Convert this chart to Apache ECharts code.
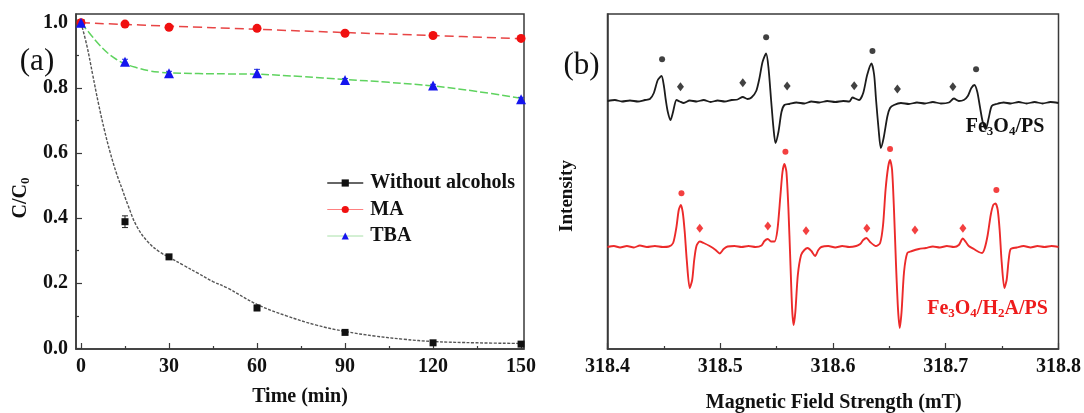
<!DOCTYPE html>
<html><head><meta charset="utf-8">
<script src="https://cdn.jsdelivr.net/npm/echarts@6/dist/echarts.min.js"></script>
<style>html,body{margin:0;padding:0;background:#fff}#c{width:1084px;height:413px}</style>
</head><body><div id="c"></div>
<script>
// ---------- Panel (a) data ----------
const timeMin = [0, 15, 30, 60, 90, 120, 150];
const withoutAlcohols = [1.0, 0.389, 0.281, 0.124, 0.049, 0.017, 0.013];
const maValues = [1.0, 0.996, 0.986, 0.983, 0.968, 0.961, 0.952];
const tbaValues = [1.0, 0.880, 0.845, 0.845, 0.824, 0.807, 0.765];
const withoutErr = [0, 0.018, 0.006, 0.008, 0.005, 0.005, 0.004];
const tbaErr = [0, 0.008, 0.006, 0.012, 0.005, 0.004, 0.006];

const fitWithoutT = [0, 2, 4, 6, 8, 10, 12, 14, 16, 19, 23, 27, 30, 35, 40, 45, 50, 60, 70, 80, 90, 100, 110, 120, 135, 150];
const fitWithoutV = [1.0, 0.93, 0.84, 0.75, 0.67, 0.60, 0.54, 0.49, 0.44, 0.375, 0.325, 0.295, 0.280, 0.255, 0.230, 0.205, 0.185, 0.135, 0.100, 0.072, 0.052, 0.038, 0.028, 0.021, 0.017, 0.015];
const fitMaT = [0, 30, 60, 90, 120, 150];
const fitMaV = [1.0, 0.990, 0.980, 0.970, 0.961, 0.951];
const fitTbaT = [0, 3, 6, 9, 12, 15, 19, 23, 27, 30, 40, 50, 60, 75, 90, 105, 120, 135, 150];
const fitTbaV = [1.0, 0.967, 0.935, 0.908, 0.888, 0.874, 0.862, 0.853, 0.848, 0.846, 0.844, 0.843, 0.842, 0.835, 0.826, 0.817, 0.806, 0.789, 0.768];

const timeTicks = [0, 30, 60, 90, 120, 150];
const timeMinorTicks = [15, 45, 75, 105, 135];
const ratioTicks = [0, 0.2, 0.4, 0.6, 0.8, 1.0];
const ratioMinorTicks = [0.1, 0.3, 0.5, 0.7, 0.9];

// ---------- Panel (b) data ----------
const fieldTicks = [318.4, 318.5, 318.6, 318.7, 318.8];
const fieldMinorTicks = [318.45, 318.55, 318.65, 318.75];

const fieldBlack = [318.4000,318.4066,318.4128,318.4199,318.4270,318.4332,318.4376,318.4411,318.4446,318.4479,318.4499,318.4517,318.4535,318.4559,318.4579,318.4612,318.4641,318.4676,318.4729,318.4791,318.4853,318.4915,318.4977,318.5039,318.5101,318.5154,318.5200,318.5242,318.5277,318.5319,318.5348,318.5375,318.5407,318.5428,318.5451,318.5472,318.5490,318.5516,318.5543,318.5569,318.5613,318.5675,318.5746,318.5808,318.5879,318.5949,318.6020,318.6091,318.6144,318.6173,318.6206,318.6232,318.6268,318.6303,318.6341,318.6365,318.6382,318.6405,318.6424,318.6449,318.6482,318.6506,318.6541,318.6603,318.6674,318.6745,318.6816,318.6886,318.6957,318.7028,318.7072,318.7116,318.7160,318.7196,318.7227,318.7255,318.7280,318.7302,318.7328,318.7355,318.7381,318.7408,318.7452,318.7514,318.7576,318.7647,318.7717,318.7788,318.7859,318.7929,318.8000];
const intensityBlack = [248,249,247.5,248.5,247.5,249,250,256,269,273,264,249,237,229,236,249,247.5,246,248.5,247.5,249,247,248.5,247.5,249,249.5,252,250,251.5,258,271,287,295.5,281,249,221,206,217,237,244,245,246.5,245.5,247.5,246.5,248,247,248,247.5,251.5,250,249,256,274,285.5,274,249,219,201,211,232.5,241,244,246,245,246.5,245.5,247,245.5,246.5,250.5,248,249,253,261,264,257,243,227,220,231,243,245,246.5,245.5,247,245.5,247,245.5,247,246];

const fieldRed = [318.4000,318.4057,318.4111,318.4172,318.4234,318.4287,318.4349,318.4420,318.4491,318.4544,318.4582,318.4610,318.4632,318.4650,318.4667,318.4685,318.4703,318.4729,318.4751,318.4769,318.4789,318.4818,318.4853,318.4906,318.4959,318.4995,318.5030,318.5065,318.5127,318.5189,318.5251,318.5313,318.5366,318.5392,318.5422,318.5450,318.5481,318.5507,318.5534,318.5552,318.5569,318.5587,318.5605,318.5622,318.5638,318.5651,318.5666,318.5688,318.5717,318.5746,318.5775,318.5808,318.5841,318.5870,318.5896,318.5958,318.6020,318.6082,318.6144,318.6206,318.6241,318.6268,318.6297,318.6329,318.6380,318.6418,318.6444,318.6466,318.6489,318.6506,318.6524,318.6541,318.6559,318.6577,318.6592,318.6608,318.6630,318.6659,318.6701,318.6762,318.6824,318.6886,318.6948,318.7010,318.7072,318.7116,318.7151,318.7178,318.7204,318.7249,318.7293,318.7322,318.7346,318.7372,318.7399,318.7421,318.7441,318.7461,318.7478,318.7496,318.7520,318.7540,318.7558,318.7576,318.7629,318.7691,318.7752,318.7814,318.7876,318.7938,318.8000];
const intensityRed = [102,103,101.5,103,101.5,103.5,102,103,102,102.5,106,121,139,144,137,117,89,61,69,89,103,107.5,106,103,99,95.5,100,102.5,103,102,103,102,103.5,108,110,107.5,107.5,119,154,177,185,177,139,87,39,24,37,74,94,99,101,98,93,99,102,103,101.5,103,102,103,105,109,111,107,103,106,124,159,182,189,179,139,84,39,21,37,77,96,98,100,101,102.5,101.5,103,102,104,110.5,107,103,100,97,96,101,114,134,144,145.5,139,119,87,61,69,89,100,101.5,103,101.5,103,102,103,102];

const blackDotField = [318.4484, 318.5407, 318.6350, 318.7269];
const blackDotInt = [289.7, 311.7, 298, 279.7];
const blackDiamondField = [318.4647, 318.5200, 318.5593, 318.6188, 318.6571, 318.7063];
const blackDiamondInt = [262.3, 266.3, 263, 263.3, 260, 262.3];
const redDotField = [318.4656, 318.5578, 318.6506, 318.7449];
const redDotInt = [155.7, 197.3, 200, 159];
const redDiamondField = [318.4818, 318.5422, 318.5761, 318.6300, 318.6727, 318.7152];
const redDiamondInt = [120.7, 123, 118.3, 120.7, 119, 120.7];

// ---------- build ----------
const FONT = "'Liberation Serif', 'Times New Roman', serif";
const zip = (a, b) => a.map((v, i) => [v, b[i]]);
const zip3 = (a, b, c) => a.map((v, i) => [v, b[i], c[i]]);
const AXC = '#3a3a3a';

function errRenderer(color) {
  return function (params, api) {
    const x = api.value(0), y = api.value(1), e = api.value(2);
    if (!e) return null;
    const p1 = api.coord([x, y + e]), p2 = api.coord([x, y - e]);
    const w = 3;
    const st = { stroke: color, lineWidth: 1 };
    return { type: 'group', children: [
      { type: 'line', shape: { x1: p1[0], y1: p1[1], x2: p2[0], y2: p2[1] }, style: st },
      { type: 'line', shape: { x1: p1[0] - w, y1: p1[1], x2: p1[0] + w, y2: p1[1] }, style: st },
      { type: 'line', shape: { x1: p2[0] - w, y1: p2[1], x2: p2[0] + w, y2: p2[1] }, style: st }
    ]};
  };
}

const labelStyle = { fontFamily: FONT, fontSize: 20, fontWeight: 'bold', color: '#111' };

function majorAxis(o) {
  return Object.assign({
    type: 'value', splitLine: { show: false },
    axisLine: { show: true, onZero: false, lineStyle: { color: AXC, width: 1.5 } },
    axisTick: { show: true, inside: true, length: 6, lineStyle: { color: AXC, width: 1.2 } },
    axisLabel: Object.assign({ show: true, margin: 8 }, labelStyle)
  }, o);
}
function minorAxis(o) {
  return Object.assign({
    type: 'value', splitLine: { show: false },
    axisLine: { show: false, onZero: false },
    axisTick: { show: true, inside: true, length: 3, lineStyle: { color: AXC, width: 1.2 } },
    axisLabel: { show: false }
  }, o);
}

const chart = echarts.init(document.getElementById('c'));
const option = {
  animation: false,
  backgroundColor: '#fff',
  grid: [
    { left: 76, right: 560, top: 14, bottom: 64, show: true, borderColor: AXC, borderWidth: 1.5, backgroundColor: 'transparent' },
    { left: 607.5, right: 24, top: 14, bottom: 64, show: true, borderColor: AXC, borderWidth: 1.5, backgroundColor: 'transparent' }
  ],
  xAxis: [
    majorAxis({ gridIndex: 0, position: 'bottom', min: -1.7, max: 151,
      axisTick: { show: true, inside: true, length: 6, customValues: timeTicks, lineStyle: { color: AXC, width: 1.2 } },
      axisLabel: Object.assign({ margin: 8, customValues: timeTicks }, labelStyle) }),
    minorAxis({ gridIndex: 0, position: 'bottom', min: -1.7, max: 151,
      axisTick: { show: true, inside: true, length: 3, customValues: timeMinorTicks, lineStyle: { color: AXC, width: 1.2 } } }),
    majorAxis({ gridIndex: 1, position: 'bottom', min: 318.4, max: 318.8,
      axisTick: { show: true, inside: true, length: 6, customValues: fieldTicks, lineStyle: { color: AXC, width: 1.2 } },
      axisLabel: Object.assign({ margin: 8, customValues: fieldTicks, formatter: v => Number(v).toFixed(1) }, labelStyle) }),
    minorAxis({ gridIndex: 1, position: 'bottom', min: 318.4, max: 318.8,
      axisTick: { show: true, inside: true, length: 3, customValues: fieldMinorTicks, lineStyle: { color: AXC, width: 1.2 } } })
  ],
  yAxis: [
    majorAxis({ gridIndex: 0, position: 'left', min: -0.002, max: 1.027,
      axisTick: { show: true, inside: true, length: 6, customValues: ratioTicks, lineStyle: { color: AXC, width: 1.2 } },
      axisLabel: Object.assign({ margin: 8, customValues: ratioTicks, formatter: v => Number(v).toFixed(1) }, labelStyle) }),
    minorAxis({ gridIndex: 0, position: 'left', min: -0.002, max: 1.027,
      axisTick: { show: true, inside: true, length: 3, customValues: ratioMinorTicks, lineStyle: { color: AXC, width: 1.2 } } }),
    { type: 'value', gridIndex: 1, position: 'left', min: 0, max: 335, splitLine: { show: false },
      axisLine: { show: true, lineStyle: { color: AXC, width: 1.5 } }, axisTick: { show: false }, axisLabel: { show: false } }
  ],
  legend: {
    orient: 'vertical', left: 326.5, top: 173, padding: 0, itemGap: 6.5,
    itemWidth: 36, itemHeight: 9,
    textStyle: { fontFamily: FONT, fontSize: 20, fontWeight: 'bold', color: '#111', lineHeight: 20, padding: [0, 0, 0, 2] },
    data: [
      { name: 'Without alcohols', lineStyle: { color: '#333', width: 1.5, opacity: 1, type: 'solid' } },
      { name: 'MA', lineStyle: { color: '#ff8080', width: 1, opacity: 1, type: 'solid' } },
      { name: 'TBA', lineStyle: { color: '#a8e0a8', width: 1, opacity: 1, type: 'solid' } }
    ]
  },
  series: [
    // fitted curves
    { type: 'line', xAxisIndex: 0, yAxisIndex: 0, data: zip(fitWithoutT, fitWithoutV), smooth: 0.4, showSymbol: false, silent: true,
      lineStyle: { color: '#555', width: 1.4, type: [3, 1.5] }, z: 2 },
    { type: 'line', xAxisIndex: 0, yAxisIndex: 0, data: zip(fitMaT, fitMaV), smooth: 0.4, showSymbol: false, silent: true,
      lineStyle: { color: '#e84545', width: 1.5, type: [9, 5] }, z: 2 },
    { type: 'line', xAxisIndex: 0, yAxisIndex: 0, data: zip(fitTbaT, fitTbaV), smooth: 0.4, showSymbol: false, silent: true,
      lineStyle: { color: '#5fd35f', width: 1.5, type: [8, 3] }, z: 2 },
    // error bars
    { type: 'custom', xAxisIndex: 0, yAxisIndex: 0, data: zip3(timeMin, withoutAlcohols, withoutErr), renderItem: errRenderer('#222'), z: 3, silent: true },
    { type: 'custom', xAxisIndex: 0, yAxisIndex: 0, data: zip3(timeMin, tbaValues, tbaErr), renderItem: errRenderer('#2233dd'), z: 3, silent: true },
    // markers
    { name: 'Without alcohols', type: 'line', xAxisIndex: 0, yAxisIndex: 0, data: zip(timeMin, withoutAlcohols),
      symbol: 'rect', symbolSize: 7, showSymbol: true, lineStyle: { opacity: 0 }, itemStyle: { color: '#111' }, z: 5 },
    { name: 'MA', type: 'line', xAxisIndex: 0, yAxisIndex: 0, data: zip(timeMin, maValues),
      symbol: 'circle', symbolSize: 9, showSymbol: true, lineStyle: { opacity: 0 }, itemStyle: { color: '#f01010' }, z: 5 },
    { name: 'TBA', type: 'line', xAxisIndex: 0, yAxisIndex: 0, data: zip(timeMin, tbaValues),
      symbol: 'triangle', symbolSize: 10, showSymbol: true, lineStyle: { opacity: 0 }, itemStyle: { color: '#1515ee' }, z: 5 },
    // EPR spectra
    { type: 'line', xAxisIndex: 2, yAxisIndex: 2, data: zip(fieldBlack, intensityBlack), smooth: 0.25, showSymbol: false, silent: true,
      lineStyle: { color: '#1c1c1c', width: 1.8 }, z: 2 },
    { type: 'line', xAxisIndex: 2, yAxisIndex: 2, data: zip(fieldRed, intensityRed), smooth: 0.25, showSymbol: false, silent: true,
      lineStyle: { color: '#ec2a2a', width: 1.9 }, z: 2 },
    { type: 'scatter', xAxisIndex: 2, yAxisIndex: 2, data: zip(blackDotField, blackDotInt), symbol: 'circle', symbolSize: 6, itemStyle: { color: '#111' }, z: 4 },
    { type: 'scatter', xAxisIndex: 2, yAxisIndex: 2, data: zip(blackDiamondField, blackDiamondInt), symbol: 'diamond', symbolSize: [7, 9], itemStyle: { color: '#111' }, z: 4 },
    { type: 'scatter', xAxisIndex: 2, yAxisIndex: 2, data: zip(redDotField, redDotInt), symbol: 'circle', symbolSize: 6, itemStyle: { color: '#f01010' }, z: 4 },
    { type: 'scatter', xAxisIndex: 2, yAxisIndex: 2, data: zip(redDiamondField, redDiamondInt), symbol: 'diamond', symbolSize: [7, 9], itemStyle: { color: '#f01010' }, z: 4 }
  ],
  graphic: [
    { type: 'text', x: 37, y: 62, z: 10, style: { text: '(a)', font: "31px 'Liberation Serif', serif", fill: '#111', align: 'center', verticalAlign: 'middle' } },
    { type: 'text', x: 581.5, y: 66, z: 10, style: { text: '(b)', font: "31px 'Liberation Serif', serif", fill: '#111', align: 'center', verticalAlign: 'middle' } },
    { type: 'text', x: 21, y: 198, rotation: Math.PI / 2, z: 10, style: {
        text: '{m|C/C}{s|0}', align: 'center', verticalAlign: 'middle',
        rich: { m: { fontFamily: FONT, fontSize: 20, fontWeight: 'bold', fill: '#111', color: '#111', lineHeight: 22 },
                s: { fontFamily: FONT, fontSize: 13, fontWeight: 'bold', fill: '#111', color: '#111', lineHeight: 13, verticalAlign: 'bottom' } } } },
    { type: 'text', x: 300, y: 397, z: 10, style: { text: 'Time (min)', font: "bold 20px 'Liberation Serif', serif", fill: '#111', align: 'center', verticalAlign: 'middle' } },
    { type: 'text', x: 567.5, y: 196, rotation: Math.PI / 2, z: 10, style: { text: 'Intensity', font: "bold 19px 'Liberation Serif', serif", fill: '#111', align: 'center', verticalAlign: 'middle' } },
    { type: 'text', x: 833.7, y: 403, z: 10, style: { text: 'Magnetic Field Strength (mT)', font: "bold 20px 'Liberation Serif', serif", fill: '#111', align: 'center', verticalAlign: 'middle' } },
    { type: 'text', x: 1005, y: 127, z: 10, style: {
        text: '{m|Fe}{s|3}{m|O}{s|4}{m|/PS}', align: 'center', verticalAlign: 'middle',
        rich: { m: { fontFamily: FONT, fontSize: 20, fontWeight: 'bold', fill: '#111', color: '#111', lineHeight: 22 },
                s: { fontFamily: FONT, fontSize: 13, fontWeight: 'bold', fill: '#111', color: '#111', lineHeight: 13, verticalAlign: 'bottom' } } } },
    { type: 'text', x: 987.5, y: 309, z: 10, style: {
        text: '{m|Fe}{s|3}{m|O}{s|4}{m|/H}{s|2}{m|A/PS}', align: 'center', verticalAlign: 'middle',
        rich: { m: { fontFamily: FONT, fontSize: 20, fontWeight: 'bold', fill: '#ee1c1c', color: '#ee1c1c', lineHeight: 22 },
                s: { fontFamily: FONT, fontSize: 13, fontWeight: 'bold', fill: '#ee1c1c', color: '#ee1c1c', lineHeight: 13, verticalAlign: 'bottom' } } } }
  ]
};
chart.setOption(option);
</script>
</body></html>
